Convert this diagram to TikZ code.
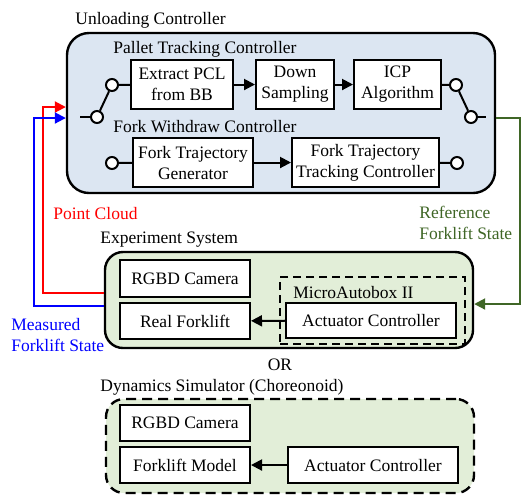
\documentclass[tikz,border=0pt]{standalone}
\usepackage{fontspec}
\setmainfont{Liberation Serif}
\usetikzlibrary{arrows.meta}
\definecolor{ucblue}{HTML}{DCE6F2}
\definecolor{esgreen}{HTML}{E2EED8}
\definecolor{refgreen}{HTML}{3F6626}
\tikzset{
  every node/.style={font=\fontsize{8.75}{10.5}\selectfont},
  blk/.style={draw, fill=white, line width=1pt, align=center, inner sep=0pt},
  grp/.style={draw, line width=1.2pt, rounded corners=9pt, inner sep=0pt},
  lbl/.style={anchor=west, inner sep=0pt},
  sw/.style={circle, draw, fill=white, line width=1pt, minimum size=6pt, inner sep=0pt},
  wire/.style={line width=1pt},
  arr/.style={line width=1pt, -{Triangle[length=5.5pt,width=5.5pt]}}
}
\begin{document}
\begin{tikzpicture}[x=0.5pt,y=-0.5pt]
\useasboundingbox (0,0) rectangle (523,495);
\node[grp, fill=ucblue, rounded corners=11pt, minimum width=214pt, minimum height=80pt] (unload) at (281,113) {};
\node[grp, fill=esgreen, minimum width=184pt, minimum height=48pt] (expsys) at (289,300) {};
\node[grp, fill=esgreen, dashed, dash pattern=on 5pt off 3pt, minimum width=184pt, minimum height=47pt] (simsys) at (290,446) {};
\node[draw, dashed, dash pattern=on 4pt off 2.5pt, line width=1.2pt, inner sep=0pt, minimum width=92.5pt, minimum height=33.5pt] (mab) at (372.5,310.5) {};
\node[lbl] (tunload) at (75,20) {Unloading Controller};
\node[lbl] (tpallet) at (113,49) {Pallet Tracking Controller};
\node[lbl] (tfork) at (113,127) {Fork Withdraw Controller};
\node[lbl] (texp) at (100,240) {Experiment System};
\node[lbl] (tmab) at (293,292) {MicroAutobox II};
\node (tor) at (280,365) {OR};
\node[lbl] (tsim) at (100,387) {Dynamics Simulator (Choreonoid)};
\node[lbl, red] (tpcl) at (53,213) {Point Cloud};
\node[lbl, refgreen, align=left] (tref) at (419,223) {Reference\\Forklift State};
\node[lbl, blue, align=left] (tmeas) at (11,335) {Measured\\Forklift State};
\node[blk, minimum width=51pt, minimum height=24.5pt] (pcl) at (182,84.5) {Extract PCL\\from BB};
\node[blk, minimum width=39pt, minimum height=24.5pt] (down) at (295,84.5) {Down\\Sampling};
\node[blk, minimum width=43.5pt, minimum height=24.5pt] (icp) at (397.5,84.5) {ICP\\Algorithm};
\node[blk, minimum width=60pt, minimum height=24.5pt] (ftg) at (193,162.5) {Fork Trajectory\\Generator};
\node[blk, minimum width=73.5pt, minimum height=24.5pt] (fttc) at (365.5,162.5) {Fork Trajectory\\Tracking Controller};
\node[blk, minimum width=65pt, minimum height=18.5pt] (cam1) at (185,278.5) {RGBD Camera};
\node[blk, minimum width=65pt, minimum height=18pt] (real) at (185,321) {Real Forklift};
\node[blk, minimum width=85pt, minimum height=17.5pt] (act1) at (371,320.5) {Actuator Controller};
\node[blk, minimum width=65pt, minimum height=18pt] (cam2) at (185,423) {RGBD Camera};
\node[blk, minimum width=65pt, minimum height=18pt] (model) at (185,465) {Forklift Model};
\node[blk, minimum width=85pt, minimum height=18pt] (act2) at (373,465) {Actuator Controller};
\node[sw] (s1) at (112,85) {};
\node[sw] (s2) at (97,117) {};
\node[sw] (s3) at (456,85) {};
\node[sw] (s4) at (471,117) {};
\node[sw] (s5) at (112,163) {};
\node[sw] (s6) at (457,163) {};
\coordinate (inL) at (80,117);
\coordinate (outR) at (486,117);
\draw[wire] (inL) -- (s2);
\draw[wire] (s2) -- (s1);
\draw[wire] (s1) -- (pcl);
\draw[wire] (icp) -- (s3);
\draw[wire] (s3) -- (s4);
\draw[wire] (s4) -- (outR);
\draw[wire] (s5) -- (ftg);
\draw[wire] (fttc) -- (s6);
\draw[arr] (pcl) -- (down);
\draw[arr] (down) -- (icp);
\draw[arr] (ftg) -- (fttc);
\draw[arr] (act1) -- (real);
\draw[arr] (act2) -- (model);
\draw[arr, red] (expsys.west |- 0,293) -| (43,107) -- (unload.west |- 0,107);
\draw[arr, blue] (expsys.west |- 0,306) -| (34,118) -- (unload.west |- 0,118);
\draw[arr, refgreen] (unload.east |- 0,118) -| (520,304) -- (expsys.east |- 0,304);
\end{tikzpicture}
\end{document}
